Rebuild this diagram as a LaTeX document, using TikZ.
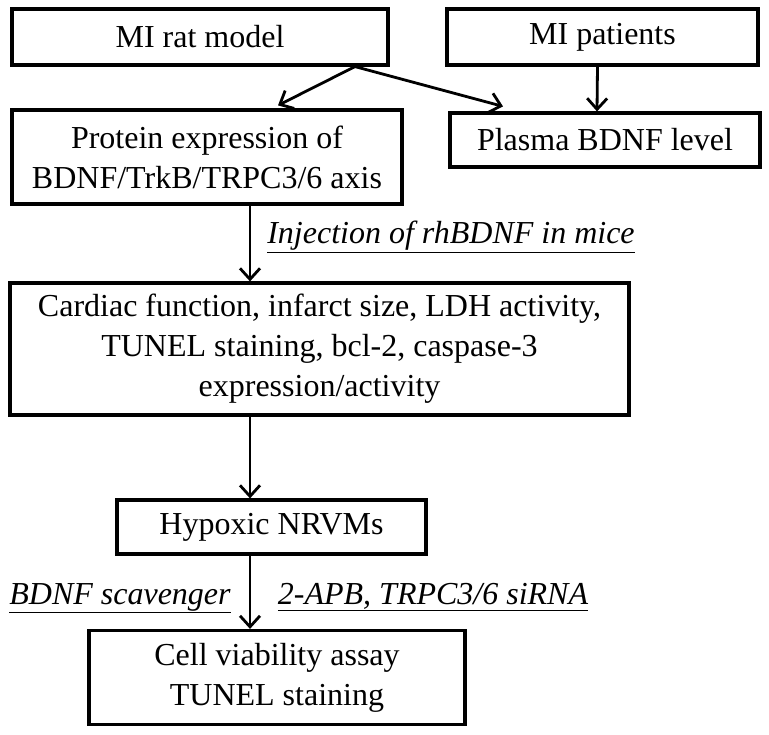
\documentclass[tikz,border=0pt]{standalone}
\usepackage{fontspec}
\setmainfont{Liberation Serif}
\usetikzlibrary{arrows.meta,positioning}
\tikzset{
  basic/.style  = {draw, rectangle, inner sep=0pt, align=center,
                   font=\fontsize{32}{40}\selectfont},
  stage/.style  = {basic, line width=3.2pt},
  note/.style   = {inner sep=0pt, font=\fontsize{32}{40}\selectfont\itshape},
  flow/.style   = {line width=2.8pt,
                   -{Straight Barb[length=11pt,width=20pt,line width=2.8pt]}}
}

\begin{document}
\begin{tikzpicture}[x=1pt,y=-1pt]
\useasboundingbox (0,0) rectangle (769,735);

% top row, the two sources
\node[stage, minimum width=376pt, minimum height=56pt] (rat) at (200,37) {MI rat model};
\node[stage, minimum width=311pt, minimum height=56pt] (pat) at (602.5,37) {MI patients};

% second row
\node[stage, minimum width=390pt, minimum height=94pt] (prot) at (207,157)
  {Protein expression of\\BDNF/TrkB/TRPC3/6 axis};
\node[stage, minimum width=310pt, minimum height=54pt] (plas) at (605,140) {Plasma BDNF level};

% the main column
\node[stage, minimum width=619pt, minimum height=132pt] (card) at (319.5,349)
  {Cardiac function, infarct size, LDH activity,\\TUNEL staining, bcl-2, caspase-3\\expression/activity};
\node[stage, minimum width=309pt, minimum height=54pt] (hyp) at (271.5,527) {Hypoxic NRVMs};
\node[stage, minimum width=376pt, minimum height=94pt] (cell) at (277,677.5)
  {Cell viability assay\\TUNEL staining};

% treatments along the arrows
\node[note, anchor=base] (inj) at (451,244) {\underline{Injection of rhBDNF in mice}};
\node[note, anchor=base] (scav) at (120,604) {\underline{BDNF scavenger}};
\node[note, anchor=base] (apb) at (433,604) {\underline{2-APB, TRPC3/6 siRNA}};

% arrows
\coordinate (axis) at (250,0);
\draw[flow] ([xshift=155pt]rat.south) -- ([xshift=71pt,yshift=3pt]prot.north);
\draw[flow] ([xshift=155pt]rat.south) -- ([xshift=-102pt,yshift=5pt]plas.north);
\draw[flow] ([xshift=-5pt]pat.south) -- ([xshift=-8pt]plas.north);
\draw[flow] (prot.south -| axis) -- (card.north -| axis);
\draw[flow] (card.south -| axis) -- (hyp.north -| axis);
\draw[flow] (hyp.south -| axis) -- (cell.north -| axis);
\end{tikzpicture}
\end{document}
